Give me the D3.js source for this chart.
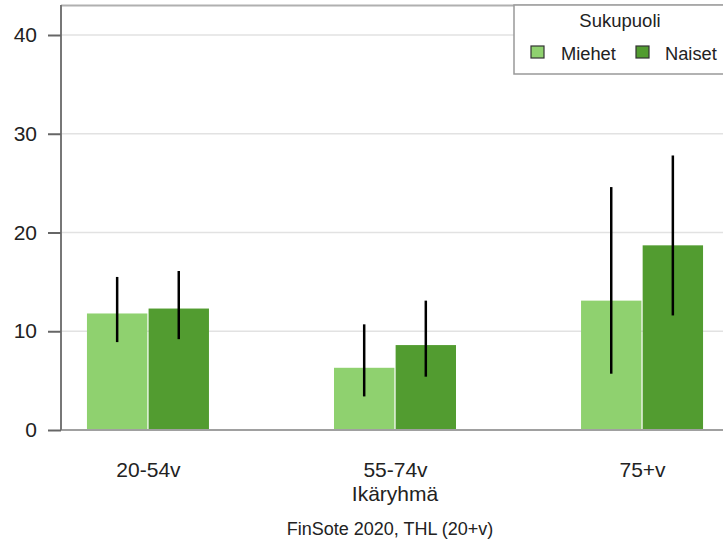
<!DOCTYPE html>
<html><head><meta charset="utf-8">
<script src="https://cdn.jsdelivr.net/npm/d3@7"></script>
<style>body{margin:0;background:#fff;} svg{display:block;font-family:"Liberation Sans",Arial,sans-serif;}</style>
</head><body><svg id="c" width="723" height="549"></svg>
<script>
const categories = ["20-54v", "55-74v", "75+v"];
const seriesNames = ["Miehet", "Naiset"];
const miehet = [11.8, 6.3, 13.1];
const naiset = [12.3, 8.6, 18.7];
const miehetLow = [8.9, 3.4, 5.7];
const miehetHigh = [15.5, 10.7, 24.6];
const naisetLow = [9.2, 5.4, 11.6];
const naisetHigh = [16.1, 13.1, 27.8];
const yTicks = [0, 10, 20, 30, 40];
const colors = ["#8fd16f", "#529c30"];

const FONT = "Liberation Sans, Arial, sans-serif";
const svg = d3.select("#c");
const pLeft = 61, pRight = 729, pTop = 5, pBottom = 430;
const y = d3.scaleLinear().domain([0, 40]).range([pBottom, 35]);
const x = d3.scalePoint().domain(categories).range([pLeft, pRight]).padding(0.352);
const xs = d3.scaleBand().domain(seriesNames).range([-61, 61]).paddingInner(0.02);

// grid
svg.append("g").selectAll("line").data(yTicks.filter(d => d > 0)).join("line")
  .attr("x1", pLeft).attr("x2", 723).attr("y1", d => y(d)).attr("y2", d => y(d))
  .attr("stroke", "#e2e2e2").attr("stroke-width", 1.5);

// top border
svg.append("line").attr("x1", pLeft).attr("x2", 723).attr("y1", pTop + 0.5).attr("y2", pTop + 0.5)
  .attr("stroke", "#b0b0b0").attr("stroke-width", 2);

const data = categories.map((c, i) => ({c, vals: [
  {s: "Miehet", v: miehet[i], lo: miehetLow[i], hi: miehetHigh[i]},
  {s: "Naiset", v: naiset[i], lo: naisetLow[i], hi: naisetHigh[i]}]}));

const g = svg.append("g").selectAll("g").data(data).join("g")
  .attr("transform", d => `translate(${x(d.c)},0)`);
g.selectAll("rect").data(d => d.vals).join("rect")
  .attr("x", d => xs(d.s)).attr("width", xs.bandwidth())
  .attr("y", d => y(d.v)).attr("height", d => y(0) - y(d.v))
  .attr("fill", (d, i) => colors[i]);
g.selectAll("line.err").data(d => d.vals).join("line").attr("class", "err")
  .attr("x1", d => xs(d.s) + xs.bandwidth() / 2).attr("x2", d => xs(d.s) + xs.bandwidth() / 2)
  .attr("y1", d => y(d.lo)).attr("y2", d => y(d.hi))
  .attr("stroke", "#000").attr("stroke-width", 2.5);

// x baseline
svg.append("line").attr("x1", pLeft).attr("x2", 723).attr("y1", pBottom).attr("y2", pBottom)
  .attr("stroke", "#a0a0a0").attr("stroke-width", 2);

// y axis
const ya = svg.append("g").attr("transform", `translate(${pLeft},0)`)
  .call(d3.axisLeft(y).tickValues(yTicks).tickSize(13).tickPadding(11));
ya.select(".domain").attr("stroke", "#777").attr("stroke-width", 2).attr("d", `M0,${pTop}V${pBottom}`);
ya.selectAll(".tick line").attr("stroke", "#666").attr("stroke-width", 2);
ya.selectAll("text").attr("font-size", 21).attr("fill", "#222").attr("font-family", FONT);

// x axis labels
const xa = svg.append("g").attr("transform", `translate(0,${pBottom})`)
  .call(d3.axisBottom(x).tickSize(0).tickPadding(0));
xa.select(".domain").remove();
xa.selectAll("text").attr("y", 47).attr("dy", null)
  .attr("font-size", 21).attr("fill", "#222").attr("font-family", FONT);

svg.append("text").attr("x", x(categories[1])).attr("y", 501).attr("text-anchor", "middle")
  .attr("font-size", 21).attr("fill", "#222").attr("font-family", FONT).text("Ikäryhmä");
svg.append("text").attr("x", 390).attr("y", 535).attr("text-anchor", "middle")
  .attr("font-size", 18).attr("fill", "#222").attr("font-family", FONT).text("FinSote 2020, THL (20+v)");

// legend
const lg = svg.append("g");
lg.append("rect").attr("x", 514).attr("y", 5).attr("width", 230).attr("height", 69)
  .attr("fill", "#fff").attr("stroke", "#999").attr("stroke-width", 1.5);
lg.append("text").attr("x", 620).attr("y", 27).attr("text-anchor", "middle")
  .attr("font-size", 18.5).attr("fill", "#222").attr("font-family", FONT).text("Sukupuoli");
const legX = [531, 636], textX = [561, 665];
seriesNames.forEach((s, i) => {
  lg.append("rect").attr("x", legX[i]).attr("y", 46).attr("width", 13).attr("height", 12)
    .attr("fill", colors[i]).attr("stroke", "#333").attr("stroke-width", 1.2);
  lg.append("text").attr("x", textX[i]).attr("y", 60).attr("font-size", 18.3).attr("fill", "#222")
    .attr("font-family", FONT).text(s);
});
</script></body></html>
